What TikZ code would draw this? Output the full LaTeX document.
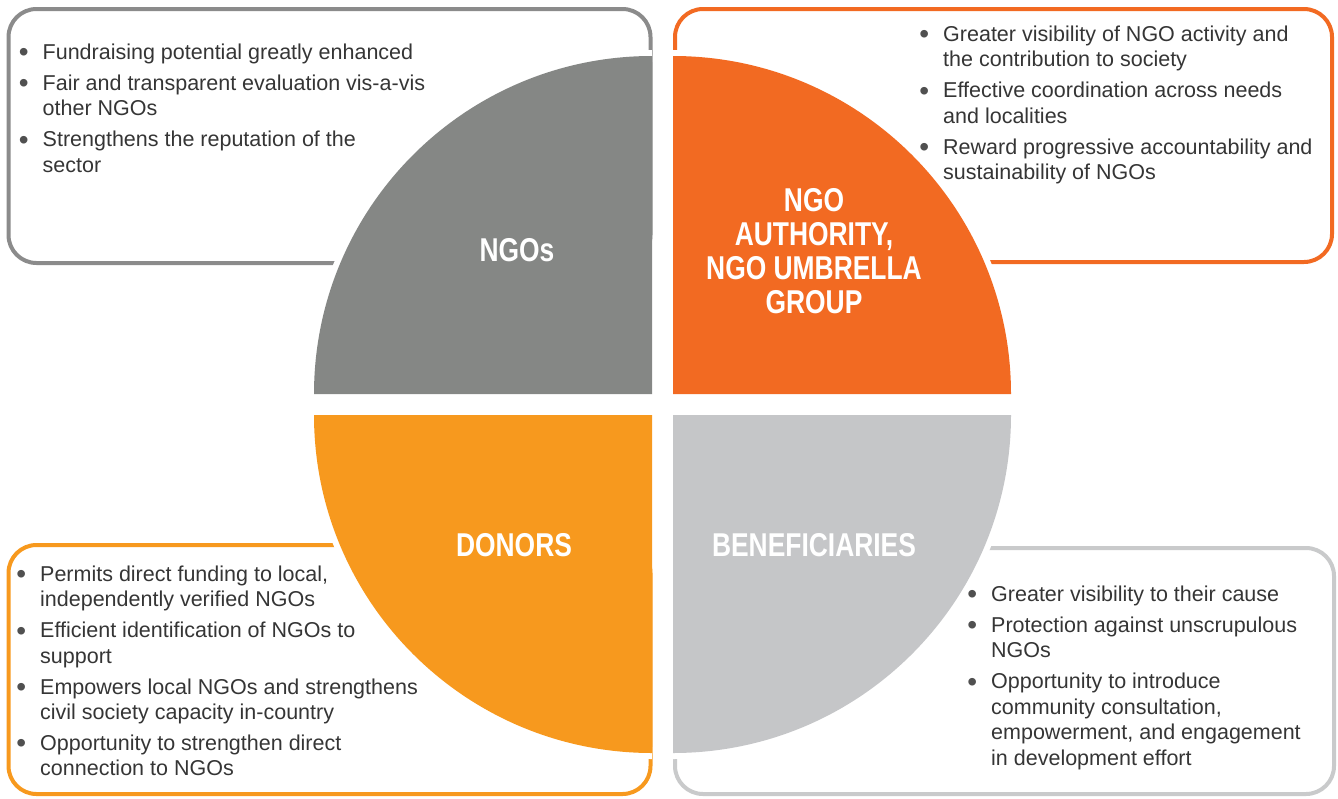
\documentclass[tikz,border=0pt]{standalone}
\usepackage{fontspec}
\setmainfont{Liberation Sans}
\newfontfamily\headfont[FakeStretch=0.8]{Liberation Sans}
\usepackage{tikz}
\usetikzlibrary{positioning}
\definecolor{ngogray}{HTML}{858785}
\definecolor{ngoline}{HTML}{8B8B8B}
\definecolor{authorange}{HTML}{F26A22}
\definecolor{donoryellow}{HTML}{F7991E}
\definecolor{benefgray}{HTML}{C5C6C8}
\definecolor{benefline}{HTML}{C9CACB}
\definecolor{bodytext}{HTML}{353535}
\definecolor{dotgray}{HTML}{505050}
\newcommand{\bul}{\strut\llap{\raisebox{-2.5pt}{\fontsize{28}{25.5}\selectfont\textcolor{dotgray}{\textbullet}}\hspace{14pt}}}

\begin{document}
\begin{tikzpicture}[x=1pt,y=-1pt,
  panel/.style={rounded corners=28pt, line width=4pt},
  halo/.style={draw=white, line width=12pt},
  point/.style={anchor=north west, inner sep=0pt, align=left, text=bodytext,
    font=\fontsize{21.5}{25.5}\selectfont},
  heading/.style={text=white, align=center,
    font=\headfont\bfseries\fontsize{33}{34}\selectfont}]
        \useasboundingbox (0,0) rectangle (1338,798);
        \draw[panel, ngoline] (8.5,9) rectangle (650.5,263);
        \draw[panel, authorange] (675,9) rectangle (1332,262);
        \draw[panel, donoryellow] (8.5,545) rectangle (650.5,794);
        \draw[panel, benefline] (675,548) rectangle (1334,794);
        \draw[halo] (314,394) arc[start angle=180, end angle=270, radius=338];
        \draw[halo] (1011,394) arc[start angle=0, end angle=-90, radius=338];
        \draw[halo] (314,415) arc[start angle=180, end angle=90, radius=338];
        \draw[halo] (1011,415) arc[start angle=0, end angle=90, radius=338];
        \fill[ngogray] (652,394) -- (314,394) arc[start angle=180, end angle=270, radius=338] -- cycle;
        \fill[authorange] (673,394) -- (1011,394) arc[start angle=0, end angle=-90, radius=338] -- cycle;
        \fill[donoryellow] (652,415) -- (314,415) arc[start angle=180, end angle=90, radius=338] -- cycle;
        \fill[benefgray] (673,415) -- (1011,415) arc[start angle=0, end angle=90, radius=338] -- cycle;
        \node[heading] (ngos) at (517,250) {NGOs};
        \node[heading] (authority) at (814,251) {NGO\\AUTHORITY,\\NGO UMBRELLA\\GROUP};
        \node[heading] (donors) at (514,545) {DONORS};
        \node[heading] (benef) at (814,545) {BENEFICIARIES};
        % NGOs
        \node[point] (ngo1) at (42.5,41.2) {\bul Fundraising potential greatly enhanced\strut};
        \node[point, below=5pt of ngo1.south west, anchor=north west] (ngo2) {\bul Fair and transparent evaluation vis-a-vis\\other NGOs\strut};
        \node[point, below=5pt of ngo2.south west, anchor=north west] (ngo3) {\bul Strengthens the reputation of the\\sector\strut};
        % authority
        \node[point] (auth1) at (943,23.2) {\bul Greater visibility of NGO activity and\\the contribution to society\strut};
        \node[point, below=5pt of auth1.south west, anchor=north west] (auth2) {\bul Effective coordination across needs\\and localities\strut};
        \node[point, below=5pt of auth2.south west, anchor=north west] (auth3) {\bul Reward progressive accountability and\\sustainability of NGOs\strut};
        % donors
        \node[point] (don1) at (40,563.2) {\bul Permits direct funding to local,\\independently verified NGOs\strut};
        \node[point, below=5pt of don1.south west, anchor=north west] (don2) {\bul Efficient identification of NGOs to\\support\strut};
        \node[point, below=5pt of don2.south west, anchor=north west] (don3) {\bul Empowers local NGOs and strengthens\\civil society capacity in-country\strut};
        \node[point, below=5pt of don3.south west, anchor=north west] (don4) {\bul Opportunity to strengthen direct\\connection to NGOs\strut};
        % beneficiaries
        \node[point] (ben1) at (991,583.2) {\bul Greater visibility to their cause\strut};
        \node[point, below=5pt of ben1.south west, anchor=north west] (ben2) {\bul Protection against unscrupulous\\NGOs\strut};
        \node[point, below=5pt of ben2.south west, anchor=north west] (ben3) {\bul Opportunity to introduce\\community consultation,\\empowerment, and engagement\\in development effort\strut};
    \end{tikzpicture}
\end{document}
